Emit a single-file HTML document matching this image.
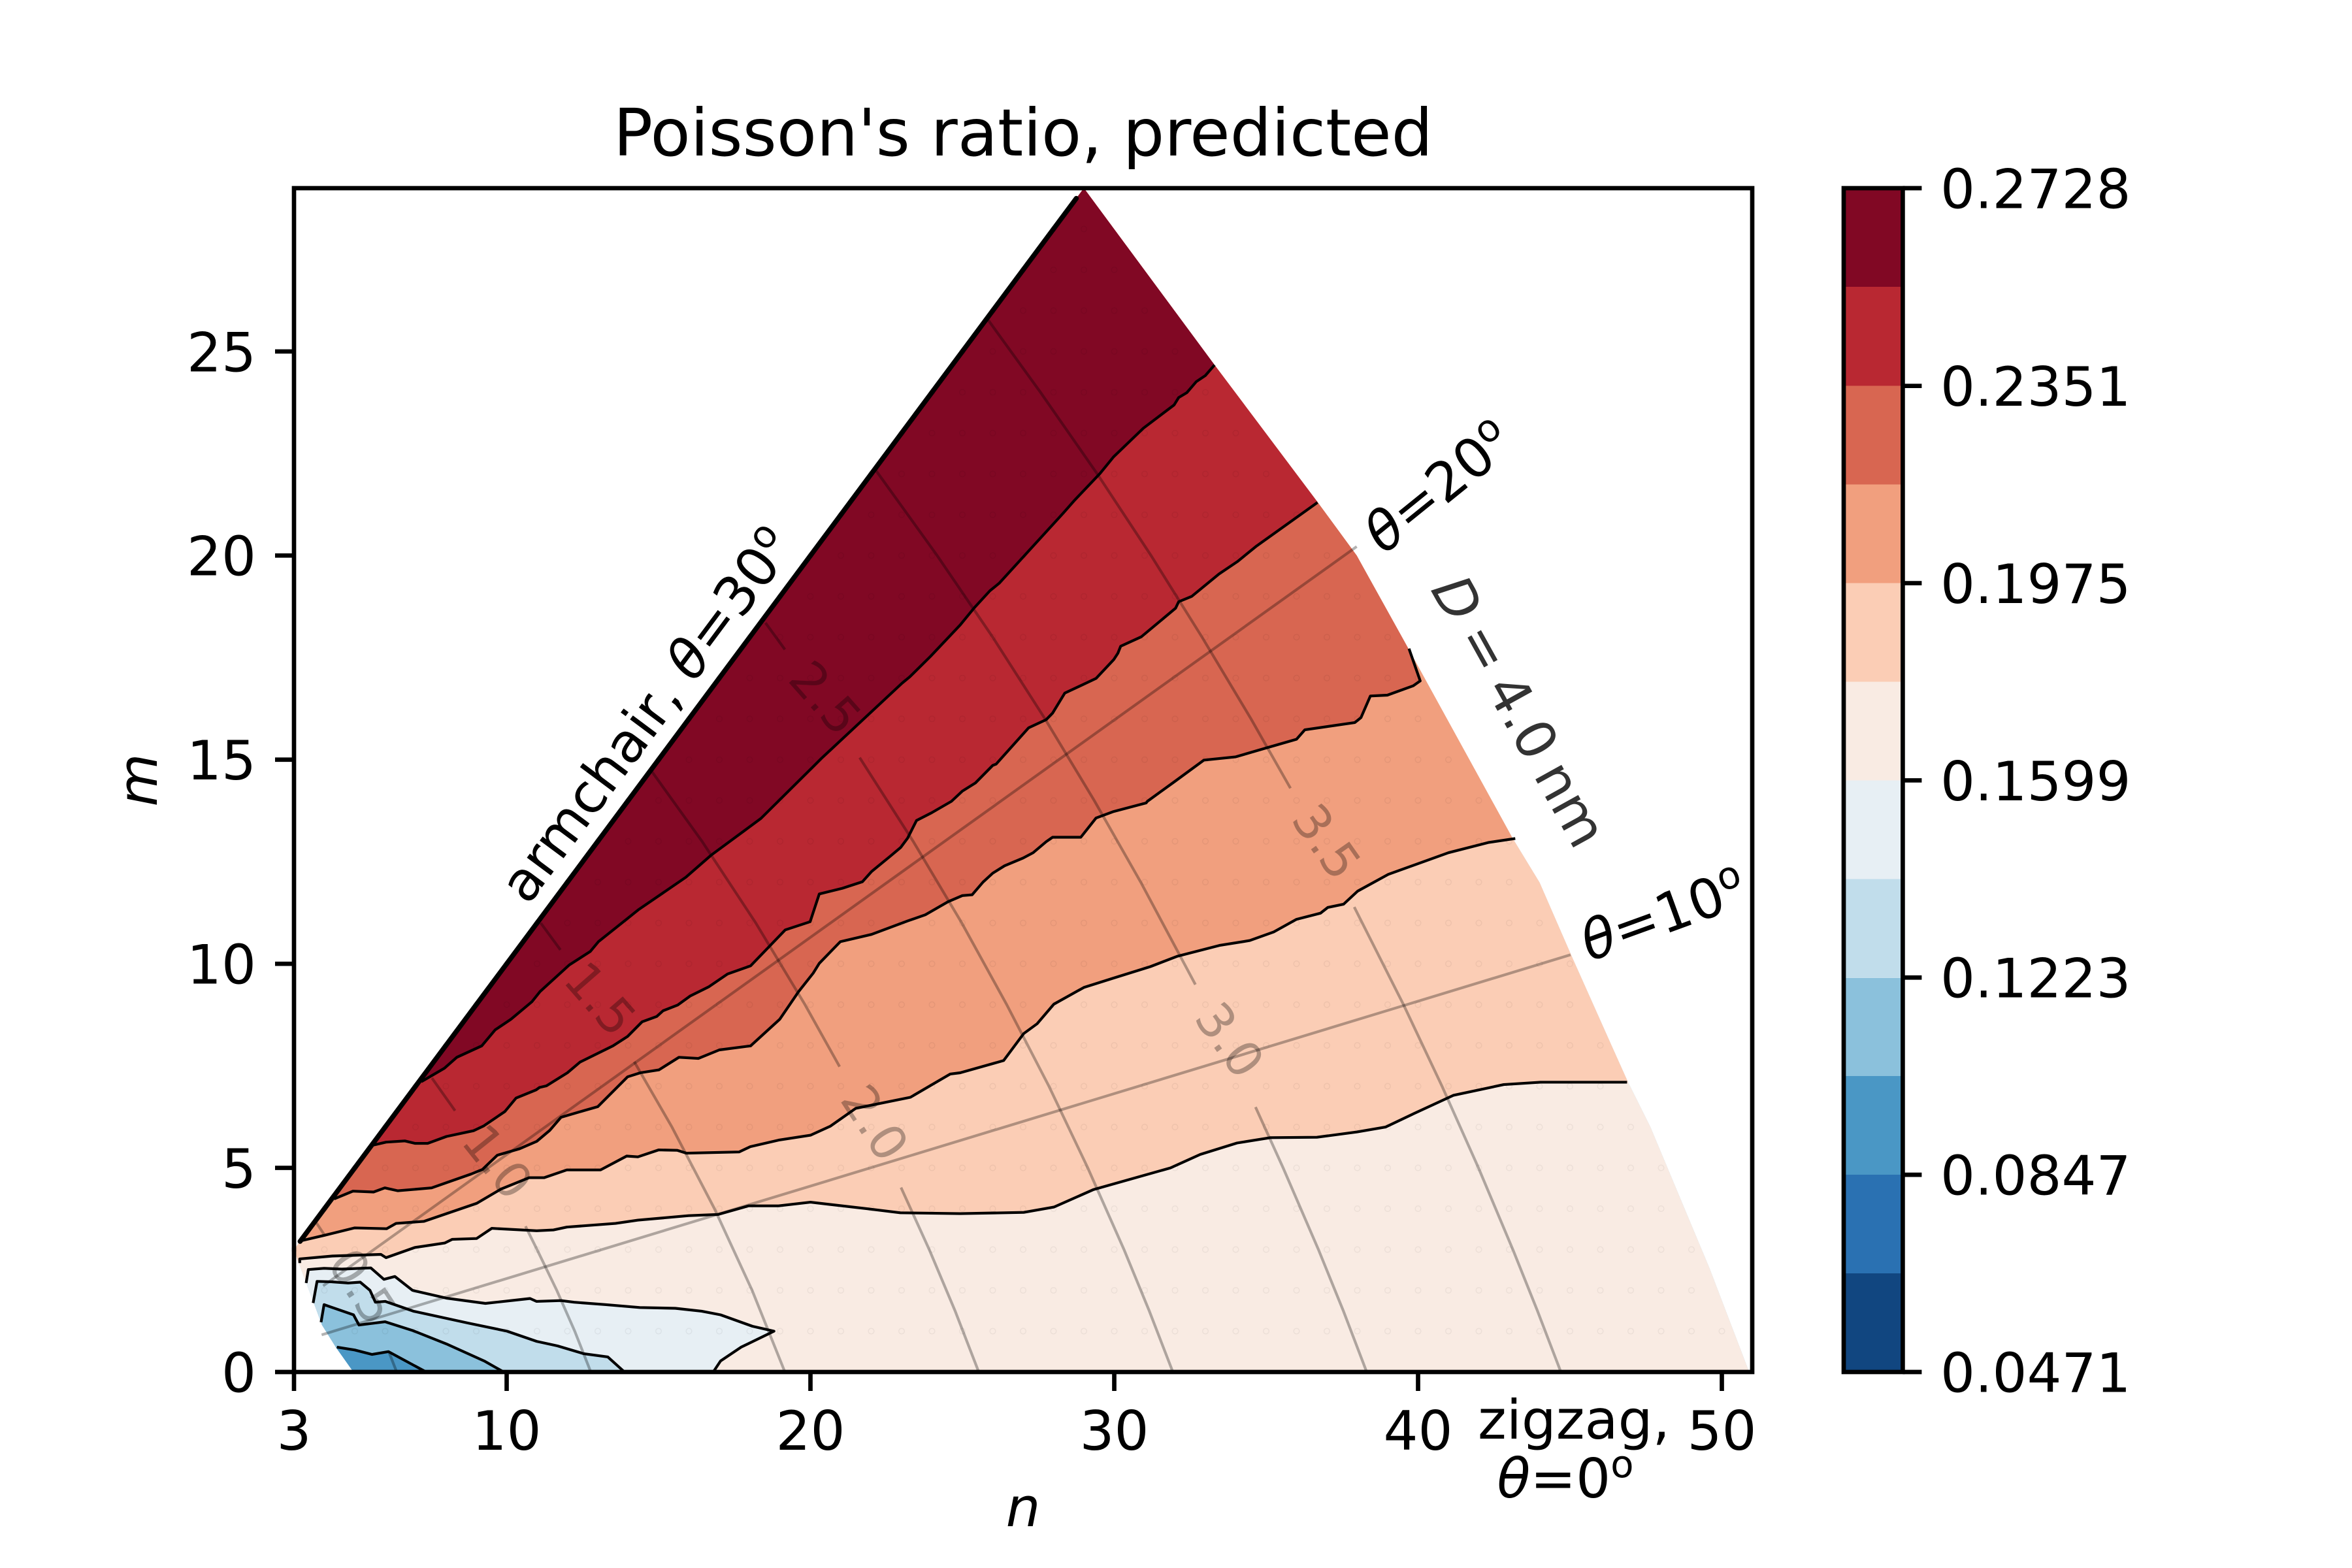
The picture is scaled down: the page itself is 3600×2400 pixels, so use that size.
<!DOCTYPE html>
<html lang="en">
<head>
<meta charset="utf-8">
<title>Poisson's ratio, predicted</title>
<style>
html,body{margin:0;padding:0;background:#fff;}
svg{display:block;}
text{font-family:"DejaVu Sans","Liberation Sans",sans-serif;fill:#000;}
</style>
</head>
<body>
<svg id="chart" xmlns="http://www.w3.org/2000/svg" width="3600" height="2400" viewBox="0 0 3600 2400">
  <rect x="0" y="0" width="3600" height="2400" fill="#fff"/>
  <defs><clipPath id="domain-clip"><path id="domain-path"/></clipPath></defs>
  <g id="bands" clip-path="url(#domain-clip)"></g>
  <g id="lattice"></g>
  <g id="contours"></g>
  <g id="guides"></g>
  <g id="guide-labels"></g>
  <g id="axes"></g>
  <g id="colorbar"></g>

  <text x="1566" y="238" font-size="100" text-anchor="middle">Poisson's ratio, predicted</text>
  <text x="1566" y="2336" font-size="83.33" font-style="italic" text-anchor="middle">n</text>
  <text transform="translate(240,1194) rotate(-90)" font-size="83.33" font-style="italic" text-anchor="middle">m</text>

  <text transform="translate(808,1387) rotate(-53.3)" font-size="83.33">armchair, <tspan font-style="italic">θ</tspan>=30<tspan dy="-31" font-size="58">o</tspan></text>
  <text transform="translate(2118,850) rotate(-39)" font-size="83.33"><tspan font-style="italic">θ</tspan>=20<tspan dy="-31" font-size="58">o</tspan></text>
  <text transform="translate(2433,1472) rotate(-20)" font-size="83.33"><tspan font-style="italic">θ</tspan>=10<tspan dy="-31" font-size="58">o</tspan></text>
  <text transform="translate(2189,902) rotate(61)" font-size="83.33" word-spacing="-7" style="fill:#333"><tspan font-style="italic">D</tspan> = 4.0 nm</text>
  <text x="2409" y="2202" font-size="83.33" text-anchor="middle">zigzag,</text>
  <text x="2396" y="2292" font-size="83.33" text-anchor="middle"><tspan font-style="italic">θ</tspan>=0<tspan dy="-31" font-size="58">o</tspan></text>
</svg>

<script>
// ---- data (n, m coordinates) ----
const xTicks = [3, 10, 20, 30, 40, 50];
const yTicks = [0, 5, 10, 15, 20, 25];
const colorbarLevels = [0.0471, 0.0659, 0.0847, 0.1035, 0.1223, 0.1411, 0.1599, 0.1787, 0.1975, 0.2163, 0.2351, 0.2540, 0.2728];
const colorbarTickLabels = ["0.0471", "0.0847", "0.1223", "0.1599", "0.1975", "0.2351", "0.2728"];
const colorbarTickValues = [0.0471, 0.0847, 0.1223, 0.1599, 0.1975, 0.2351, 0.2728];

const domainBoundary = [[3,3],[29,29],[33.3,24.67],[36.7,21.3],[37.98,20],[39.57,17.87],[43.1,13.09],[44,11.99],[45.05,10.2],[46.35,8.03],[46.9,7.12],[47.65,6],[49.6,2.53],[50.9,0],[4.95,0],[4.39,0.59],[3.92,1.15],[3.67,1.65],[3.13,2.72],[3,3]];
const armchairEdge = [[3.2,3.2],[28.75,28.75]];

const contour0 = [[4.41,0.61],[5,0.54],[5.57,0.43],[6.11,0.5],[7.35,0]];
const contour1 = [[3.89,1.22],[3.99,1.65],[4.96,1.4],[5.14,1.15],[6,1.23],[6.93,1.01],[8.01,0.69],[9.26,0.27],[9.9,0]];
const contour2 = [[3.63,1.69],[3.76,2.22],[4.21,2.21],[4.78,2.18],[5.18,2.2],[5.5,2],[5.68,1.71],[6,1.73],[6.93,1.49],[8.72,1.2],[10.01,1],[10.99,0.75],[11.67,0.64],[12.53,0.45],[13.33,0.37],[13.88,0]];
const contour3 = [[3.4,2.18],[3.47,2.51],[3.99,2.54],[4.57,2.52],[5.53,2.55],[5.96,2.27],[6.32,2.34],[6.9,2],[8.01,1.81],[9.3,1.68],[10.77,1.8],[10.98,1.73],[11.79,1.75],[12.22,1.71],[13.27,1.65],[14.38,1.58],[15.55,1.56],[16.42,1.49],[17.04,1.4],[18.09,1.12],[18.8,1],[17.72,0.61],[17.04,0.27],[16.8,0]];
const contour4 = [[3.19,2.67],[3.19,2.77],[4.26,2.84],[5.86,2.88],[6.03,2.8],[6.98,3.05],[7.96,3.16],[8.21,3.25],[9.01,3.27],[9.51,3.52],[10.99,3.46],[11.54,3.48],[11.98,3.55],[13.58,3.64],[14.32,3.72],[15.99,3.83],[16.97,3.86],[17.96,4.07],[18.95,4.07],[20,4.16],[21.86,4],[22.96,3.9],[24.93,3.88],[27.02,3.91],[28.01,4.04],[29.32,4.47],[31.85,5],[32.83,5.33],[34.04,5.61],[35.14,5.74],[36.67,5.75],[37.99,5.88],[38.93,6],[39.86,6.33],[41.17,6.78],[42.82,7.04],[44.03,7.1],[46.88,7.1]];
const contour5 = [[3.21,3.21],[4.01,3.35],[5,3.53],[6.05,3.51],[6.36,3.64],[7.28,3.69],[9.01,4.13],[9.81,4.48],[10.74,4.76],[11.23,4.76],[11.98,4.95],[13.09,4.95],[13.95,5.29],[14.32,5.27],[15,5.44],[15.62,5.43],[15.92,5.36],[17.65,5.39],[18.02,5.52],[18.95,5.68],[20,5.8],[20.65,6.02],[21.49,6.46],[23.29,6.73],[24.6,7.3],[24.93,7.33],[26.36,7.63],[27.02,8.29],[27.46,8.53],[28.01,9.01],[29,9.42],[29.98,9.65],[31.19,9.93],[32.06,10.18],[33.46,10.45],[34.46,10.57],[35.25,10.78],[36,11.09],[36.79,11.24],[37.03,11.38],[37.55,11.46],[38.01,11.78],[39.02,12.19],[41,12.72],[42.31,12.97],[43.2,13.07]];
const contour6 = [[4.32,4.24],[4.94,4.43],[5.62,4.41],[5.99,4.51],[6.42,4.44],[7.53,4.51],[8.83,4.85],[9.2,4.96],[9.69,5.31],[10.43,5.47],[10.99,5.65],[11.42,5.92],[11.79,6.24],[12.53,6.4],[13,6.5],[13.98,7.23],[14.4,7.33],[15.01,7.4],[15.67,7.71],[16.31,7.68],[17,7.89],[18.03,7.99],[18.99,8.64],[19.61,9.32],[20.09,9.77],[20.29,10.01],[20.98,10.54],[22.01,10.72],[23.2,11.05],[23.78,11.2],[24.53,11.52],[25,11.67],[25.32,11.69],[25.68,12],[26,12.22],[26.39,12.4],[27,12.59],[27.33,12.72],[27.76,12.99],[27.97,13.1],[28.9,13.1],[29.4,13.57],[29.98,13.73],[31.05,13.94],[31.09,13.98],[31.98,14.46],[32.95,14.99],[34,15.07],[34.97,15.28],[36,15.5],[36.27,15.73],[37.92,15.91],[38.12,16.03],[38.43,16.56],[38.99,16.58],[39.84,16.81],[40.07,16.93],[39.7,17.72]];
const contour7 = [[5.62,5.56],[6.03,5.63],[6.65,5.66],[6.99,5.6],[7.4,5.6],[8.02,5.77],[8.91,5.91],[9.25,6.03],[9.94,6.38],[10.31,6.71],[10.97,6.91],[11.08,6.97],[11.31,7.01],[12,7.33],[12.41,7.59],[13.5,7.99],[13.98,8.22],[14.46,8.58],[14.94,8.71],[15.15,8.85],[15.63,8.99],[16.04,9.21],[16.66,9.44],[17.27,9.75],[18.03,9.95],[19.17,10.83],[19.99,11.03],[20.29,11.71],[21.05,11.85],[21.71,12.01],[22.01,12.26],[22.62,12.63],[22.97,12.85],[23.2,13.08],[23.49,13.51],[23.99,13.7],[24.64,13.98],[25,14.23],[25.43,14.43],[26,14.86],[26.11,14.89],[27.18,15.78],[27.76,15.98],[27.97,16.14],[28.37,16.63],[29.4,16.99],[29.98,17.45],[30.12,17.61],[30.21,17.78],[30.89,18.01],[32.02,18.71],[32.12,18.87],[32.55,19],[33.45,19.55],[34.05,19.85],[34.66,20.22],[36.69,21.3]];
const contour8 = [[7.19,7.11],[7.95,7.44],[8.36,7.71],[9.18,7.99],[9.62,8.38],[10.14,8.64],[10.83,9.07],[11.1,9.32],[12.06,9.97],[12.75,10.3],[13.02,10.54],[13.98,11.11],[14.33,11.32],[15.9,12.12],[16.73,12.66],[18.37,13.56],[20.09,14.83],[20.36,15.03],[23.01,16.87],[23.27,17.03],[23.95,17.53],[24.93,18.3],[25.38,18.71],[25.91,19.14],[26.21,19.32],[28.32,21.04],[28.7,21.36],[29.53,22.01],[29.98,22.42],[30.96,23.12],[31.97,23.69],[32.12,23.87],[32.39,23.99],[32.7,24.26],[33,24.41],[33.3,24.67]];

const thetaTenLine = [[3.91,0.91],[45.02,10.22]];
const thetaTwentyLine = [[3.96,2.11],[37.98,20.22]];

const diameter05a = [[3.74,3.65],[4,3.36]];
const diameter05b = [[6.12,0.5],[6.25,0.25],[6.38,0]];
const diameter10a = [[7.54,7.2],[8.3,6.4]];
const diameter10b = [[10.62,3.57],[11,3],[11.65,2],[12.24,1],[12.77,0]];
const diameter15a = [[11.12,11],[11.77,10.34]];
const diameter15b = [[14.2,7.6],[15.44,6],[16.84,4],[18.08,2],[19.16,0]];
const diameter20a = [[14.79,14.7],[16.43,13],[18.2,11],[19.82,9],[20.96,7.48]];
const diameter20b = [[22.98,4.52],[23.91,3],[24.76,1.5],[25.54,0]];
const diameter25a = [[18.52,18.35],[19.16,17.7]];
const diameter25b = [[21.62,15.05],[23.38,13],[24.98,11],[26.46,9],[27.85,7],[29.13,5],[30.32,3],[31.15,1.5],[31.93,0]];
const diameter30a = [[22.14,22.1],[24.17,20],[26,18],[27.72,16],[29.34,14],[30.87,12],[32.67,9.49]];
const diameter30b = [[34.65,6.49],[35.56,5],[36.72,3],[37.54,1.5],[38.31,0]];
const diameter35a = [[25.82,25.8],[27.57,24],[29.44,22],[31.21,20],[32.89,18],[34.5,16],[35.8,14.3]];
const diameter35b = [[37.9,11.39],[39.52,9],[40.79,7],[41.99,5],[43.12,3],[43.93,1.5],[44.7,0]];

const diameterLabelText = ["0.5", "1.0", "1.5", "2.0", "2.5", "3.0", "3.5"];
const diameterLabelN = [5.26, 9.71, 13.09, 22.13, 20.5, 33.81, 37.0];
const diameterLabelM = [2.1, 5.16, 9.15, 6.11, 16.52, 8.14, 13.0];
const diameterLabelAngle = [56.7, 51.5, 48.8, 57, 48.5, 54.5, 55];

// ---- axis functions ----
const xOf = n => 450 + (n - 3) / 48 * 2232;
const yOf = m => 2100 - m / 29 * 1812;
const cbarY = v => 2100 - (v - 0.0471) / (0.2728 - 0.0471) * 1812;

// ---- styles ----
const bandColors = ["#2a71b2", "#4a97c5", "#8bc1dc", "#c1ddeb", "#e7eff4", "#f9ebe3", "#fbcdb5", "#f19f7e", "#d86651", "#b92832", "#810824"];
const colorbarColors = ["#114680", "#2a71b2", "#4a97c5", "#8bc1dc", "#c1ddeb", "#e7eff4", "#f9ebe3", "#fbcdb5", "#f19f7e", "#d86651", "#b92832", "#810824"];
const NS = "http://www.w3.org/2000/svg";
const SP = 6.67;

const pts = a => a.map(p => xOf(p[0]).toFixed(1) + "," + yOf(p[1]).toFixed(1)).join(" ");
const gBands = document.getElementById("bands");
const gLattice = document.getElementById("lattice");
const gContours = document.getElementById("contours");
const gGuides = document.getElementById("guides");
const gGuideLabels = document.getElementById("guide-labels");
const gAxes = document.getElementById("axes");
const gBar = document.getElementById("colorbar");

document.getElementById("domain-path").setAttribute("d", "M" + pts(domainBoundary).split(" ").join("L") + "Z");

// base band, then each contour paints everything above it
const baseBand = document.createElementNS(NS, "path");
baseBand.setAttribute("d", "M" + pts(domainBoundary).split(" ").join("L") + "Z");
baseBand.setAttribute("fill", bandColors[1]);


gBands.appendChild(baseBand);

const contourSet = [contour0, contour1, contour2, contour3, contour4, contour5, contour6, contour7, contour8];
const closesViaBottom = [true, true, true, true, false, false, false, false, false];
contourSet.forEach(function (line, i) {
  const first = line[0], last = line[line.length - 1];
  const closing = closesViaBottom[i]
    ? [[last[0], -5], [60, -5], [60, 40], [0, 40], [0, first[1]]]
    : [[60, last[1]], [60, 40], [0, 40], [0, first[1]]];
  const band = document.createElementNS(NS, "path");
  band.setAttribute("d", "M" + pts(line.concat(closing)).split(" ").join("L") + "Z");
  band.setAttribute("fill", bandColors[i + 2]);
  
  
  gBands.appendChild(band);

  const stroke = document.createElementNS(NS, "polyline");
  stroke.setAttribute("points", pts(line));
  stroke.setAttribute("fill", "none");
  stroke.setAttribute("stroke", "#000");
  stroke.setAttribute("stroke-width", "4.17");
  stroke.setAttribute("stroke-linejoin", "round");
  
  
  gContours.appendChild(stroke);
});

const edge = document.createElementNS(NS, "polyline");
edge.setAttribute("points", pts(armchairEdge));
edge.setAttribute("fill", "none");
edge.setAttribute("stroke", "#000");
edge.setAttribute("stroke-width", "7.5");
edge.setAttribute("stroke-linecap", "round");


gContours.appendChild(edge);

// faint markers at integer chiral indices inside the domain
function insideDomain(n, m) {
  let inside = false;
  for (let i = 0, j = domainBoundary.length - 1; i < domainBoundary.length; j = i++) {
    const a = domainBoundary[i], b = domainBoundary[j];
    if ((a[1] > m) !== (b[1] > m) && n < (b[0] - a[0]) * (m - a[1]) / (b[1] - a[1]) + a[0]) inside = !inside;
  }
  return inside;
}
let latticeD = "";
for (let n = 3; n <= 51; n++) {
  for (let m = 1; m <= n; m++) {
    if (insideDomain(n, m)) {
      const cx = xOf(n), cy = yOf(m);
      latticeD += "M" + (cx - 4.3).toFixed(1) + " " + cy.toFixed(1) + "a4.3 4.3 0 1 0 8.6 0a4.3 4.3 0 1 0 -8.6 0";
    }
  }
}
const lattice = document.createElementNS(NS, "path");
lattice.setAttribute("d", latticeD);
lattice.setAttribute("fill", "none");
lattice.setAttribute("stroke", "#000");
lattice.setAttribute("stroke-opacity", "0.05");
lattice.setAttribute("stroke-width", "1.5");


gLattice.appendChild(lattice);

// guides
const guideSet = [thetaTenLine, thetaTwentyLine, diameter05a, diameter05b, diameter10a, diameter10b, diameter15a, diameter15b, diameter20a, diameter20b, diameter25a, diameter25b, diameter30a, diameter30b, diameter35a, diameter35b];
guideSet.forEach(function (line) {
  const g = document.createElementNS(NS, "polyline");
  g.setAttribute("points", pts(line));
  g.setAttribute("fill", "none");
  g.setAttribute("stroke", "#000");
  g.setAttribute("stroke-opacity", "0.3");
  g.setAttribute("stroke-width", "4.17");
  
  
  gGuides.appendChild(g);
});

diameterLabelText.forEach(function (label, i) {
  const t = document.createElementNS(NS, "text");
  t.setAttribute("transform", "translate(" + xOf(diameterLabelN[i]).toFixed(1) + "," + yOf(diameterLabelM[i]).toFixed(1) + ") rotate(" + diameterLabelAngle[i] + ")");
  t.setAttribute("y", "27");
  t.setAttribute("font-size", "75");
  t.setAttribute("text-anchor", "middle");
  t.setAttribute("fill-opacity", "0.3");
  
  
  t.textContent = label;
  gGuideLabels.appendChild(t);
});

// axes
function rule(parent, x1, y1, x2, y2, name) {
  const l = document.createElementNS(NS, "line");
  l.setAttribute("x1", x1);
  l.setAttribute("y1", y1);
  l.setAttribute("x2", x2);
  l.setAttribute("y2", y2);
  l.setAttribute("stroke", "#000");
  l.setAttribute("stroke-width", SP);
  
  
  parent.appendChild(l);
}
function label(parent, x, y, str, anchor, name) {
  const t = document.createElementNS(NS, "text");
  t.setAttribute("x", x);
  t.setAttribute("y", y);
  t.setAttribute("font-size", "83.33");
  t.setAttribute("text-anchor", anchor);
  
  
  t.textContent = str;
  parent.appendChild(t);
}
const frame = document.createElementNS(NS, "rect");
frame.setAttribute("x", xOf(3));
frame.setAttribute("y", yOf(29));
frame.setAttribute("width", xOf(51) - xOf(3));
frame.setAttribute("height", yOf(0) - yOf(29));
frame.setAttribute("fill", "none");
frame.setAttribute("stroke", "#000");
frame.setAttribute("stroke-width", SP);


gAxes.appendChild(frame);

xTicks.forEach(function (v) {
  rule(gAxes, xOf(v), 2100, xOf(v), 2129, "x-axis-tick");
  label(gAxes, xOf(v), 2219, String(v), "middle", "x-axis-tick-label");
});
yTicks.forEach(function (v) {
  rule(gAxes, 450, yOf(v), 421, yOf(v), "y-axis-tick");
  label(gAxes, 392, yOf(v) + 30.4, String(v), "end", "y-axis-tick-label");
});

// colorbar
colorbarColors.forEach(function (color, i) {
  const top = cbarY(colorbarLevels[i + 1]), bottom = cbarY(colorbarLevels[i]);
  const r = document.createElementNS(NS, "rect");
  r.setAttribute("x", 2822);
  r.setAttribute("y", top.toFixed(1));
  r.setAttribute("width", 90.4);
  r.setAttribute("height", (bottom - top).toFixed(1));
  r.setAttribute("fill", color);
  r.setAttribute("shape-rendering", "crispEdges");
  
  
  gBar.appendChild(r);
});
const cbarFrame = document.createElementNS(NS, "rect");
cbarFrame.setAttribute("x", 2822);
cbarFrame.setAttribute("y", 288);
cbarFrame.setAttribute("width", 90.4);
cbarFrame.setAttribute("height", 1812);
cbarFrame.setAttribute("fill", "none");
cbarFrame.setAttribute("stroke", "#000");
cbarFrame.setAttribute("stroke-width", SP);


gBar.appendChild(cbarFrame);
colorbarTickValues.forEach(function (v, i) {
  rule(gBar, 2912.4, cbarY(v), 2941.4, cbarY(v), "colorbar-tick");
  label(gBar, 2970, cbarY(v) + 30.4, colorbarTickLabels[i], "start", "colorbar-tick-label");
});
</script>
</body>
</html>
